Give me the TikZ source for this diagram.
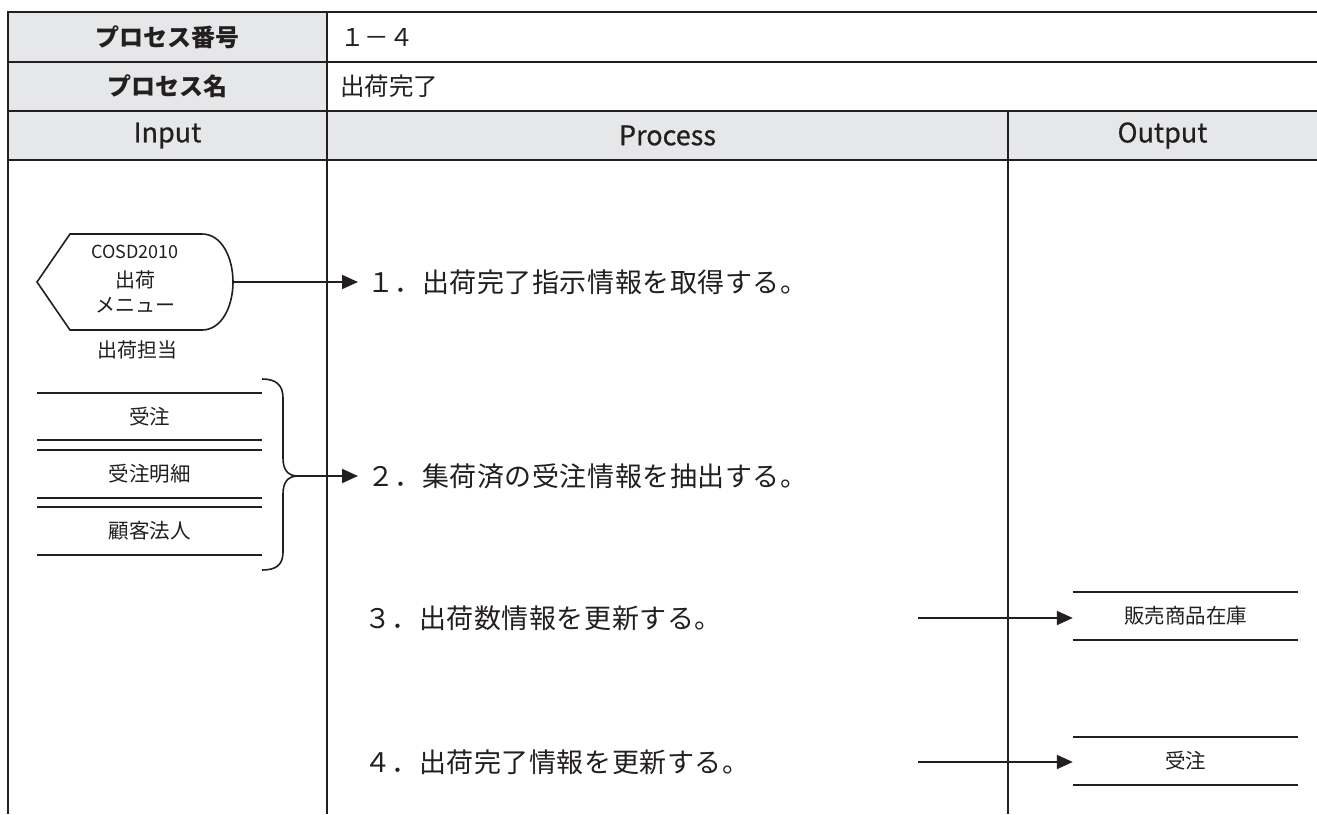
\documentclass[tikz,border=0pt]{standalone}
\usepackage{fontspec}
\setmainfont{Noto Sans CJK JP}
\usetikzlibrary{arrows.meta}
\definecolor{hdrgray}{HTML}{E6E7E8}
\definecolor{ink}{HTML}{231F20}
\begin{document}
\begin{tikzpicture}[x=1pt,y=-1pt,
  tbl/.style={line width=2.2pt, draw=ink},
  conn/.style={line width=2pt, draw=ink, -{Triangle[length=16pt,width=14pt]}},
  storeline/.style={line width=1.8pt, draw=ink},
  symline/.style={line width=1.6pt, draw=ink},
  hdr/.style={font=\fontsize{24}{28}\selectfont\bfseries, text=ink, inner sep=0pt},
  val/.style={font=\fontsize{24.5}{28}\selectfont, text=ink, anchor=west, inner sep=0pt},
  col/.style={font=\fontsize{27}{30}\selectfont\addfontfeature{FakeBold=0.6}, text=ink, inner sep=0pt},
  steptxt/.style={font=\fontsize{27}{30}\selectfont\addfontfeature{LetterSpace=2}, text=ink, anchor=west, inner xsep=9pt, inner ysep=0pt},
  small/.style={font=\fontsize{20}{24}\selectfont, text=ink, inner sep=0pt},
  code/.style={font=\fontsize{18}{20}\selectfont, text=ink, inner sep=0pt},
  store/.style={minimum width=225pt, minimum height=47pt, inner sep=0pt, font=\fontsize{20.5}{24}\selectfont, text=ink},
]
\useasboundingbox (0,0) rectangle (1317,814);
\fill[white] (0,0) rectangle (1317,814);
% header backgrounds
\fill[hdrgray] (8,12) rectangle (327,111);
\fill[hdrgray] (8,111) rectangle (1317,160);
% table lines
\draw[tbl] (1317,12) -- (8,12) -- (8,814);
\draw[tbl] (8,62) -- (1317,62);
\draw[tbl] (8,111) -- (1317,111);
\draw[tbl] (8,160) -- (1317,160);
\draw[tbl] (327,12) -- (327,814);
\draw[tbl] (1008,111) -- (1008,814);
% header texts
\node[hdr] (h1) at (167.5,37) {プロセス番号};
\node[hdr] (h2) at (167.5,86.5) {プロセス名};
\node[val] (v1) at (340,37) {１－４};
\node[val] (v2) at (340,86.5) {出荷完了};
\node[col] (cIn) at (167.5,135.5) {Input};
\node[col] (cPr) at (667.5,135.5) {Process};
\node[col] (cOut) at (1162.5,135.5) {Output};
% display symbol (hexagon)
\draw[symline] (37,282) -- (70,234) -- (202,234)
  .. controls (222,234) and (233,258) .. (233,282)
  .. controls (233,306) and (222,330) .. (202,330) -- (70,330) -- cycle;
\coordinate (hexR) at (233,282);
\node[code] (hexA) at (135,252) {COSD2010};
\node[small] (hexB) at (135,280) {出荷};
\node[small] (hexC) at (135,305) {メニュー};
\node[small] (hexL) at (137,350) {出荷担当};
% input stores
\node[store] (st1) at (149.5,416.5) {受注};
\node[store] (st2) at (149.5,474) {受注明細};
\node[store] (st3) at (149.5,531) {顧客法人};
\foreach \s in {st1,st2,st3}{
  \draw[storeline] (\s.north west) -- (\s.north east);
  \draw[storeline] (\s.south west) -- (\s.south east);
}
% brace
\coordinate (bt) at (298,476);
\draw[symline] (262,379) .. controls (276,379) and (283,385) .. (283,398)
  -- (283,458) .. controls (283,470) and (288,476) .. (bt)
  .. controls (288,476) and (283,482) .. (283,494)
  -- (283,552) .. controls (283,565) and (276,570) .. (262,570);
% process steps
\node[steptxt] (p1) at (358,282) {１．出荷完了指示情報を取得する。};
\node[steptxt] (p2) at (358,476) {２．集荷済の受注情報を抽出する。};
\node[steptxt] (p3) at (355,618) {３．出荷数情報を更新する。};
\node[steptxt] (p4) at (355,762) {４．出荷完了情報を更新する。};
\draw[conn] (hexR) -- (p1.west);
\draw[conn] (bt) -- (p2.west);
% output stores
\node[store] (so1) at (1185.5,616) {販売商品在庫};
\node[store] (so2) at (1185.5,761) {受注};
\foreach \s in {so1,so2}{
  \draw[storeline] (\s.north west) -- (\s.north east);
  \draw[storeline] (\s.south west) -- (\s.south east);
}
\coordinate (a3) at (918,618);
\coordinate (a4) at (918,762);
\draw[conn] (a3) -- (a3 -| so1.west);
\draw[conn] (a4) -- (a4 -| so2.west);
\end{tikzpicture}
\end{document}
